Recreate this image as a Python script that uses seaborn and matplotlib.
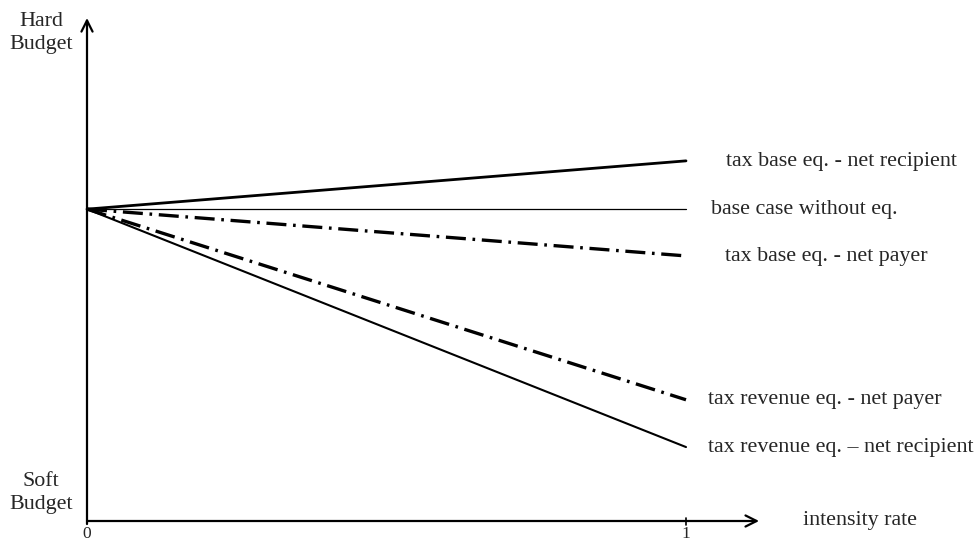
import pandas as pd
import matplotlib.pyplot as plt
import seaborn as sns

# intensity rate from 0 to 1, budget hardness (x-axis = 0, arrow tip = 1)
intensity = [0, 1]
base_case = [0.62, 0.62]
tb_recipient = [0.62, 0.716]
tb_payer = [0.62, 0.527]
tr_payer = [0.62, 0.241]
tr_recipient = [0.62, 0.147]

labels = ['tax base eq. - net recipient', 'base case without eq.',
          'tax base eq. - net payer', 'tax revenue eq. - net payer',
          'tax revenue eq. \u2013 net recipient']

sns.set_theme(style='white')
plt.rcParams['font.family'] = ['Liberation Serif', 'DejaVu Serif']

fig = plt.figure(figsize=(9.77, 5.43), dpi=100)
ax = fig.add_axes([0, 0, 1, 1])

df = pd.DataFrame({'x': intensity, 'base': base_case, 'tbr': tb_recipient,
                   'tbp': tb_payer, 'trp': tr_payer, 'trr': tr_recipient})

dashdot = (0, (6, 2, 0.8, 2))
sns.lineplot(data=df, x='x', y='tbr', ax=ax, color='black', lw=2.0)
sns.lineplot(data=df, x='x', y='base', ax=ax, color='black', lw=0.9)
sns.lineplot(data=df, x='x', y='tbp', ax=ax, color='black', lw=2.4, linestyle=dashdot)
sns.lineplot(data=df, x='x', y='trp', ax=ax, color='black', lw=2.4, linestyle=dashdot)
sns.lineplot(data=df, x='x', y='trr', ax=ax, color='black', lw=1.5)

ax.set_xlim(-87 / 599, 890 / 599)
ax.set_ylim(-22 / 503, 521 / 503)
ax.axis('off')

# axes with arrows
arrow = dict(arrowstyle='->', color='black', lw=1.6, mutation_scale=20, shrinkA=0, shrinkB=0)
ax.annotate('', xy=(0, 1.0), xytext=(0, -0.006), arrowprops=arrow)
ax.annotate('', xy=(1.122, 0), xytext=(0, 0), arrowprops=arrow)
ax.plot([1, 1], [-0.008, 0.006], color='black', lw=1.2)

fs = 15.8
label_pos = [(1.067, 0.714), (1.042, 0.62), (1.065, 0.525), (1.037, 0.241), (1.037, 0.147)]
for (lx, ly), txt in zip(label_pos, labels):
    ax.text(lx, ly, txt, fontsize=fs, ha='left', va='center')

ax.text(1.195, 0, 'intensity rate', fontsize=fs, ha='left', va='center')
ax.text(0, -0.042, '0', fontsize=12.5, ha='center', va='bottom')
ax.text(1, -0.042, '1', fontsize=12.5, ha='center', va='bottom')
ax.text(-0.077, 0.97, 'Hard\nBudget', fontsize=fs, ha='center', va='center', linespacing=1.3)
ax.text(-0.077, 0.055, 'Soft\nBudget', fontsize=fs, ha='center', va='center', linespacing=1.3)

fig.savefig('out.png', dpi=100)
